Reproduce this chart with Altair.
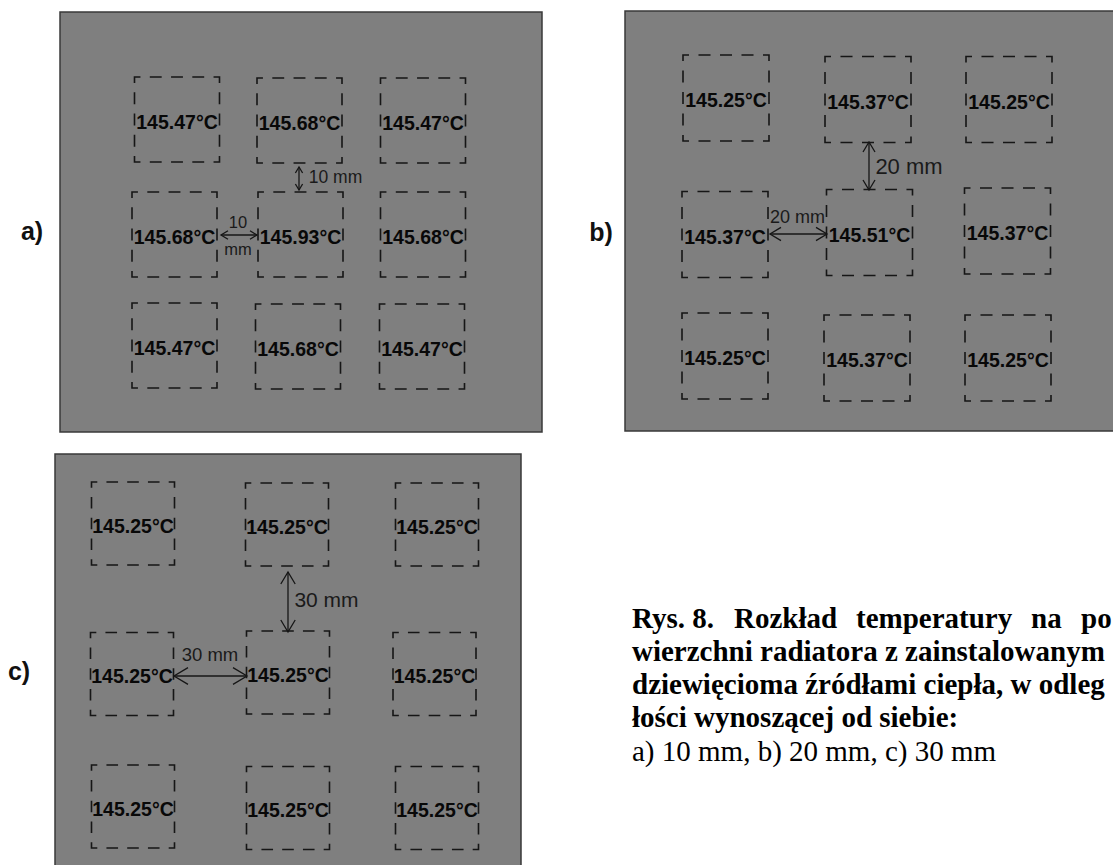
import altair as alt
import pandas as pd

W, H = 1113, 865

# Surface temperatures of the nine heat sources, row by row, left to right
temps_a = [145.47, 145.68, 145.47, 145.68, 145.93, 145.68, 145.47, 145.68, 145.47]
temps_b = [145.25, 145.37, 145.25, 145.37, 145.51, 145.37, 145.25, 145.37, 145.25]
temps_c = [145.25, 145.25, 145.25, 145.25, 145.25, 145.25, 145.25, 145.25, 145.25]

panels = ["a", "b", "c"]
panel_letters = ["a)", "b)", "c)"]
spacing_mm = [10, 20, 30]

caption_head = ["Rys. 8.", "Rozkład", "temperatury", "na", "po"]
caption_body = [
    "wierzchni radiatora z zainstalowanym",
    "dziewięcioma źródłami ciepła, w odleg",
    "łości wynoszącej od siebie:",
]
caption_tail = "a) 10 mm, b) 20 mm, c) 30 mm"

temps = dict(zip(panels, [temps_a, temps_b, temps_c]))

# Drawing layout (page pixels, y downwards)
layout = {
    "a": dict(
        frame=(60, 542, 12, 432), box=85,
        centers=[(177, 119.5), (299.5, 120.5), (423, 120.5),
                 (174.5, 234.5), (300.5, 234.5), (423, 234.5),
                 (174.5, 345.5), (298, 346.5), (422, 346.5)],
        letter=(32, 232),
        vert=dict(x=299, y1=167, y2=190, head=6),
        horiz=dict(y=235, x1=221, x2=257, head=7),
        vlabel=[(335.5, 178, 17.5)],
        hlabel=[(238, 223, 16.5, "{n}"), (238, 250, 16.5, "mm")],
    ),
    "b": dict(
        frame=(625, 1140, 11, 431), box=86,
        centers=[(726, 98), (868, 99.5), (1009, 99.5),
                 (725, 234.5), (869.5, 232.5), (1007.5, 231),
                 (725, 356), (867, 358), (1008, 358)],
        letter=(601, 233),
        vert=dict(x=869, y1=142, y2=190, head=10),
        horiz=dict(y=234, x1=770, x2=827, head=11),
        vlabel=[(909, 167, 22)],
        hlabel=[(797.5, 218, 18, "{n} mm")],
    ),
    "c": dict(
        frame=(55, 521, 454, 900), box=83,
        centers=[(133, 523.5), (287, 524.5), (437, 524.5),
                 (132, 674), (288, 672.5), (434.5, 674),
                 (133, 806.5), (288, 808), (437, 808)],
        letter=(19, 672),
        vert=dict(x=288, y1=572, y2=632, head=12),
        horiz=dict(y=676, x1=174, x2=247, head=14),
        vlabel=[(326.5, 601, 21)],
        hlabel=[(210, 655, 18.5, "{n} mm")],
    ),
}

xs = alt.Scale(domain=[0, W], range=[0, W], nice=False, zero=False)
ys = alt.Scale(domain=[0, H], range=[0, H], nice=False, zero=False)


def X(f="x"):
    return alt.X(f"{f}:Q", scale=xs, axis=None)


def Y(f="y"):
    return alt.Y(f"{f}:Q", scale=ys, axis=None)


# Plates
frames = pd.DataFrame([
    dict(panel=p, x=layout[p]["frame"][0], x2=layout[p]["frame"][1],
         y=layout[p]["frame"][2], y2=layout[p]["frame"][3]) for p in panels
])
frame_layer = alt.Chart(frames).mark_rect(
    fill="#7f7f7f", stroke="#3a3a3a", strokeWidth=1.5, clip=True
).encode(x=X(), x2="x2:Q", y=Y(), y2="y2:Q")

# Heat sources (dashed squares) and their temperatures
box_layers = []
label_rows = []
for p in panels:
    s = layout[p]["box"]
    rows = []
    for (cx, cy), t in zip(layout[p]["centers"], temps[p]):
        rows.append(dict(x=cx - s / 2, x2=cx + s / 2, y=cy - s / 2, y2=cy + s / 2))
        label_rows.append(dict(x=cx, y=cy + 3, label=f"{t:.2f}°C"))
    q = s / 4
    dash = 0.56 * q
    box_layers.append(
        alt.Chart(pd.DataFrame(rows)).mark_rect(
            fillOpacity=0, stroke="#161616", strokeWidth=1.6,
            strokeDash=[dash, q - dash], strokeDashOffset=dash / 2,
        ).encode(x=X(), x2="x2:Q", y=Y(), y2="y2:Q")
    )

temp_layer = alt.Chart(pd.DataFrame(label_rows)).mark_text(
    font="Liberation Sans", fontWeight="bold", fontSize=19.5,
    color="#080808", align="center", baseline="middle",
).encode(x=X(), y=Y(), text="label:N")

# Distance arrows
shafts, heads, dims = [], [], []
for p, n in zip(panels, spacing_mm):
    v, h = layout[p]["vert"], layout[p]["horiz"]
    shafts.append(dict(x=v["x"], x2=v["x"], y=v["y1"], y2=v["y2"]))
    shafts.append(dict(x=h["x1"], x2=h["x2"], y=h["y"], y2=h["y"]))
    heads += [
        dict(x=v["x"], y=v["y1"], ang=0, sz=(2 * v["head"]) ** 2),
        dict(x=v["x"], y=v["y2"], ang=180, sz=(2 * v["head"]) ** 2),
        dict(x=h["x1"], y=h["y"], ang=270, sz=(2 * h["head"]) ** 2),
        dict(x=h["x2"], y=h["y"], ang=90, sz=(2 * h["head"]) ** 2),
    ]
    for (lx, ly, fs) in layout[p]["vlabel"]:
        dims.append(dict(x=lx, y=ly, fs=fs, label=f"{n} mm"))
    for (lx, ly, fs, fmt) in layout[p]["hlabel"]:
        dims.append(dict(x=lx, y=ly, fs=fs, label=fmt.format(n=n)))

shaft_layer = alt.Chart(pd.DataFrame(shafts)).mark_rule(
    color="#161616", strokeWidth=1.3
).encode(x=X(), x2="x2:Q", y=Y(), y2="y2:Q")

head_layer = alt.Chart(pd.DataFrame(heads)).mark_point(
    shape="M-0.6,1L0,0L0.6,1", filled=False, color="#161616",
    strokeWidth=1.3, opacity=1,
).encode(
    x=X(), y=Y(),
    angle=alt.Angle("ang:Q", scale=None),
    size=alt.Size("sz:Q", scale=None),
)

dim_layer = alt.Chart(pd.DataFrame(dims)).mark_text(
    font="Liberation Sans", color="#1a1a1a", align="center", baseline="middle",
).encode(x=X(), y=Y(), text="label:N", size=alt.Size("fs:Q", scale=None))

# Panel letters
letters = pd.DataFrame([
    dict(x=layout[p]["letter"][0], y=layout[p]["letter"][1], label=l)
    for p, l in zip(panels, panel_letters)
])
letter_layer = alt.Chart(letters).mark_text(
    font="Liberation Sans", fontWeight="bold", fontSize=25,
    color="#111111", align="center", baseline="middle",
).encode(x=X(), y=Y(), text="label:N")

# Caption (first line justified word by word)
head_x = [632, 734, 856, 1031, 1081]
cap_bold = [dict(x=x, y=628, label=w) for x, w in zip(head_x, caption_head)]
cap_bold += [dict(x=632, y=661 + 33 * i, label=t) for i, t in enumerate(caption_body)]
cap_bold_layer = alt.Chart(pd.DataFrame(cap_bold)).mark_text(
    font="Liberation Serif", fontWeight="bold", fontSize=29,
    color="#000000", align="left", baseline="alphabetic",
).encode(x=X(), y=Y(), text="label:N")

cap_tail_layer = alt.Chart(pd.DataFrame([dict(x=632, y=761, label=caption_tail)])).mark_text(
    font="Liberation Serif", fontSize=29,
    color="#000000", align="left", baseline="alphabetic",
).encode(x=X(), y=Y(), text="label:N")

chart = alt.layer(
    frame_layer, *box_layers, temp_layer, shaft_layer, head_layer, dim_layer,
    letter_layer, cap_bold_layer, cap_tail_layer,
).properties(
    width=W, height=H, padding=0, autosize=alt.AutoSizeParams(type="none"),
    background="white",
).configure_view(stroke=None)

chart.save("out.html", embed_options={"renderer": "svg", "actions": False})
